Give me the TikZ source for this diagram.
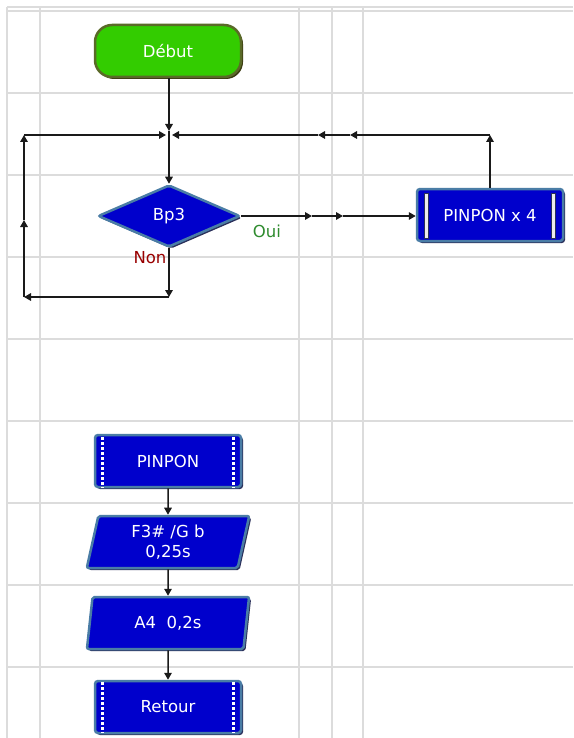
\documentclass[tikz,border=0pt]{standalone}
\usepackage{fontspec}
\setmainfont{DejaVu Sans}
\usetikzlibrary{arrows.meta,shapes.geometric,shadows}
\definecolor{gridc}{HTML}{DCDCDC}
\definecolor{boxblue}{HTML}{0000CC}
\definecolor{boxedge}{HTML}{4A7DA6}
\definecolor{boxshadow}{HTML}{2A2F5A}
\definecolor{startgreen}{HTML}{33CC00}
\definecolor{startedge}{HTML}{5A6A28}
\definecolor{startshadow}{HTML}{3A3A10}
\definecolor{ouic}{HTML}{2E8B2E}
\definecolor{nonc}{HTML}{990000}
\definecolor{linec}{HTML}{1A1A1A}
\begin{document}
\begin{tikzpicture}[x=1pt,y=-1pt,
  every node/.style={font=\fontsize{16.5}{20}\selectfont, text=white, inner sep=0pt},
  gridline/.style={draw=gridc, line width=1.5pt},
  blueshadow/.style={drop shadow={shadow xshift=2pt,shadow yshift=-2pt,fill=boxshadow,opacity=1}},
  procbox/.style={rectangle, rounded corners=3pt, fill=boxblue, draw=boxedge, line width=2.5pt, minimum width=146pt, minimum height=52pt, blueshadow},
  iobox/.style={trapezium, trapezium left angle=80, trapezium right angle=100, trapezium stretches=true, fill=boxblue, draw=boxedge, line width=2.5pt, minimum width=163pt, minimum height=52pt, rounded corners=2pt, blueshadow, align=center},
  decision/.style={diamond, aspect=2.3, fill=boxblue, draw=boxedge, line width=2.5pt, minimum width=142pt, minimum height=62pt, rounded corners=2pt, blueshadow},
  startbox/.style={rectangle, rounded corners=17pt, fill=startgreen, draw=startedge, line width=2.5pt, minimum width=146pt, minimum height=52pt, drop shadow={shadow xshift=2pt,shadow yshift=-2pt,fill=startshadow,opacity=1}},
  flow/.style={draw=linec, line width=1.5pt, -{Triangle[length=7pt,width=7.5pt]}},
  filmdots/.style={draw=white, line width=3pt, dash pattern=on 2.5pt off 2.5pt},
  sidebar/.style={fill=gray!15, draw=boxshadow, line width=0.6pt},
]
\useasboundingbox (0,0) rectangle (573,738);
\fill[white] (0,0) rectangle (573,738);
% grid
\draw[gridline] (7,7) -- (573,7);
\draw[gridline] (7,11) -- (573,11);
\foreach \gx in {7,40,299,332,363} \draw[gridline] (\gx,7) -- (\gx,738);
\foreach \gy in {93,175,257,339,421,503,585,667} \draw[gridline] (7,\gy) -- (573,\gy);

% nodes
\node[startbox] (debut) at (168,51) {Début};
\node[decision] (bp3) at (169,216) {Bp3};
\node[procbox] (pp4) at (490,215) {PINPON x 4};
\draw[sidebar] (424,193) rectangle (428,238);
\draw[sidebar] (551,193) rectangle (555,238);
\node[text=ouic] (oui) at (267,231) {Oui};
\node[text=nonc] (non) at (150,258) {Non};

\node[procbox] (pinpon) at (168,461) {PINPON};
\draw[filmdots] (102,437) -- (102,488);
\draw[filmdots] (233,437) -- (233,488);
\node[iobox] (f3) at (168,542) {F3\# /G b\\0,25s};
\node[iobox] (a4) at (168,623) {A4~~0,2s};
\node[procbox] (retour) at (168,707) {Retour};
\draw[filmdots] (102,682) -- (102,733);
\draw[filmdots] (233,682) -- (233,733);

% junction coordinates
\coordinate (jdown) at (169,131);
\coordinate (jleft) at (166,135);
\coordinate (jright) at (172,135);
\coordinate (nonend) at (169,297);
\coordinate (lbot) at (24,297);
\coordinate (lmid) at (24,220);
\coordinate (ltop) at (24,135);
\coordinate (oa1) at (312,216);
\coordinate (oa2) at (343,216);
\coordinate (rtop) at (490,135);
\coordinate (ra1) at (350,135);
\coordinate (ra2) at (318,135);

% connectors
\draw[flow] (debut.south -| jdown) -- (jdown);
\draw[flow] (jdown) -- (bp3.north);
\draw[flow] (bp3.south) -- (nonend);
\draw[flow] (nonend) -- (lbot);
\draw[flow] (lbot) -- (lmid);
\draw[flow] (lmid) -- (ltop);
\draw[flow] (ltop) -- (jleft);
\draw[flow] (bp3.east) -- (oa1);
\draw[flow] (oa1) -- (oa2);
\draw[flow] (oa2) -- (pp4.west |- oa2);
\draw[flow] (pp4.north) -- (rtop);
\draw[flow] (rtop) -- (ra1);
\draw[flow] (ra1) -- (ra2);
\draw[flow] (ra2) -- (jright);

\draw[flow] (pinpon.south) -- (f3.north);
\draw[flow] (f3.south) -- (a4.north);
\draw[flow] (a4.south) -- (retour.north);
\end{tikzpicture}
\end{document}
